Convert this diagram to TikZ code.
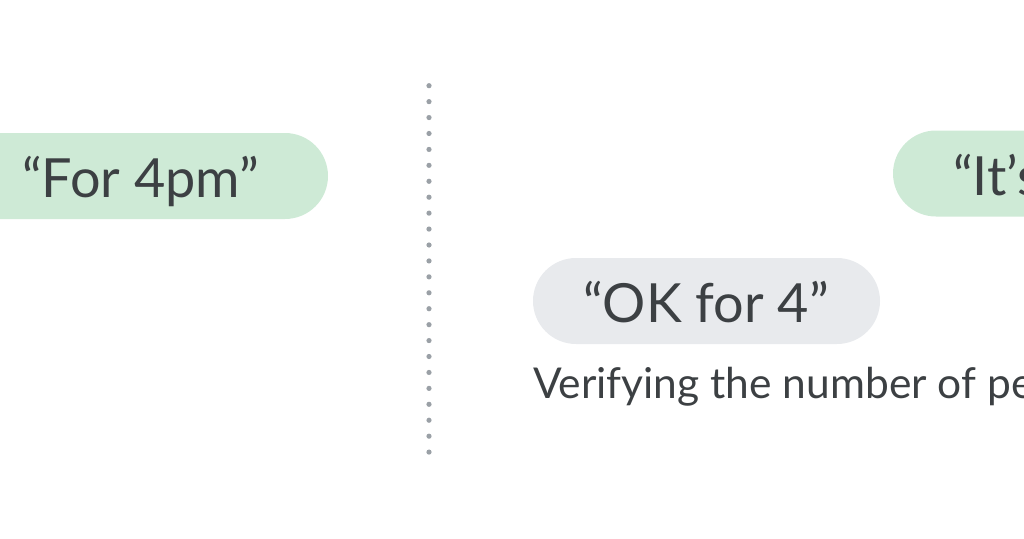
\documentclass[tikz,border=0pt]{standalone}
\usepackage{fontspec}
\setmainfont{Lato}
\usepackage{tikz}
\usetikzlibrary{positioning}
\usepackage{xcolor}
\definecolor{bubblegreen}{HTML}{CEEAD6}
\definecolor{bubblegrey}{HTML}{E8EAED}
\definecolor{inkgrey}{HTML}{3C4043}
\definecolor{dotgrey}{HTML}{9AA0A6}
\tikzstyle{pill} = [rectangle, rounded corners=43pt, minimum height=86pt, inner sep=0pt]
\tikzstyle{quote} = [text=inkgrey, font=\fontsize{54}{60}\selectfont, anchor=base west, inner sep=0pt]
\tikzstyle{caption} = [text=inkgrey, font=\fontsize{42.5}{48}\selectfont, anchor=base west, inner sep=0pt]

\begin{document}
\begin{tikzpicture}[x=1pt,y=-1pt]
    \useasboundingbox (0,0) rectangle (1024,538);
    \clip (0,0) rectangle (1024,538);

    % Left bubble
    \node[pill, fill=bubblegreen, minimum width=428pt] (leftpill) at (114,176) {};
    \node[quote] (lefttext) at (22,197) {“For 4pm”};

    % Dotted divider
    \foreach \i in {0,...,23}
        \fill[dotgrey] (429,85.7+\i*15.93) circle (2.6pt);

    % Right bubble
    \node[pill, fill=bubblegreen, minimum width=307pt] (rightpill) at (1046.5,173.5) {};
    \node[quote] (righttext) at (953,195) {“It’s};

    % Reply bubble
    \node[pill, fill=bubblegrey, minimum width=347pt] (okpill) at (706.5,301) {};
    \node[quote] (oktext) at (583,322) {“OK for 4”};

    % Caption
    \node[caption] (checktext) at (533,398) {Verifying the number of pe};

\end{tikzpicture}
\end{document}
